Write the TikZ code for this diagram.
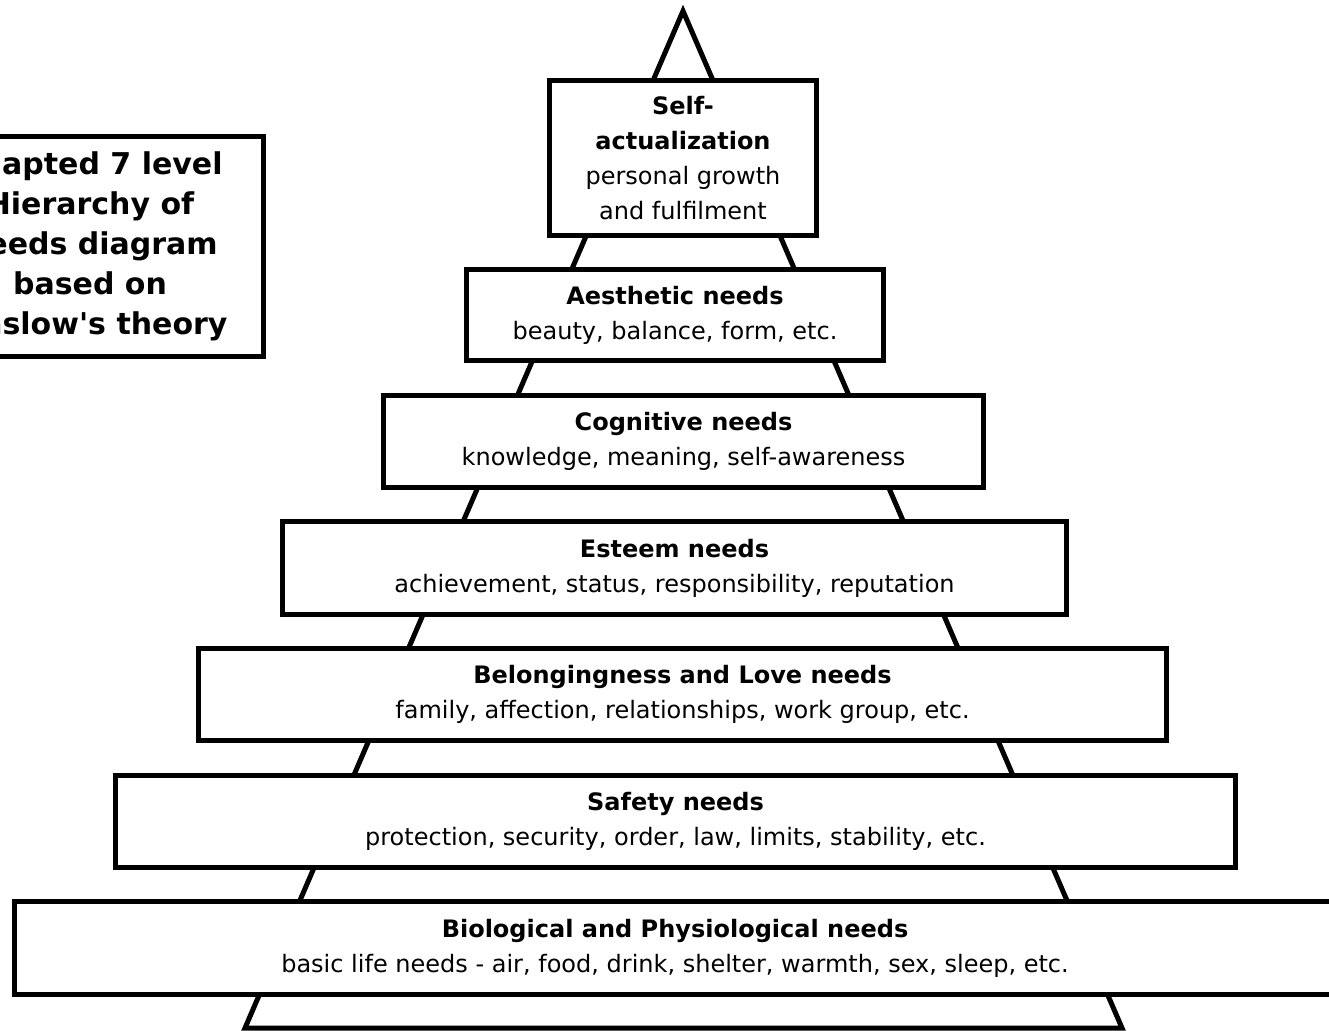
\documentclass[tikz,border=0pt]{standalone}
\usepackage{fontspec}
\setmainfont{DejaVu Sans}
\usetikzlibrary{arrows,shapes}
\tikzstyle{level}=[draw, fill=white, line width=5pt, align=center, inner sep=0pt, font=\fontsize{24}{35}\selectfont]
\tikzstyle{pyramid}=[line width=5pt, line join=miter]

\begin{document}
\begin{tikzpicture}[x=1pt,y=-1pt]
\useasboundingbox (0,0) rectangle (1329,1030);
\clip (0,0) rectangle (1329,1030);
\coordinate (top) at (683,11);
\coordinate (baseL) at (245,1028);
\coordinate (baseR) at (1122,1028);
\draw[pyramid](baseL)--(top)--(baseR)--cycle;
\node[level, minimum width=267pt, minimum height=155pt] (self) at (683,158) {\textbf{Self-}\\\textbf{actualization}\\personal growth\\and fulfilment};
\node[level, minimum width=417pt, minimum height=91pt] (aesth) at (675,315) {\textbf{Aesthetic needs}\\beauty, balance, form, etc.};
\node[level, minimum width=600pt, minimum height=92pt] (cog) at (683.5,441.5) {\textbf{Cognitive needs}\\knowledge, meaning, self-awareness};
\node[level, minimum width=784pt, minimum height=93pt] (esteem) at (674.5,568) {\textbf{Esteem needs}\\achievement, status, responsibility, reputation};
\node[level, minimum width=968pt, minimum height=92pt] (love) at (682.5,694.5) {\textbf{Belongingness and Love needs}\\family, affection, relationships, work group, etc.};
\node[level, minimum width=1120pt, minimum height=92pt] (safety) at (675.5,821.5) {\textbf{Safety needs}\\protection, security, order, law, limits, stability, etc.};
\node[level, minimum width=1321pt, minimum height=93pt] (bio) at (675,948) {\textbf{Biological and Physiological needs}\\basic life needs - air, food, drink, shelter, warmth, sex, sleep, etc.};
\node[draw, line width=5pt, align=center, inner sep=0pt, minimum width=347pt, minimum height=220pt, font=\bfseries\fontsize{30}{40}\selectfont] (title) at (90,246.5) {Adapted 7 level\\Hierarchy of\\Needs diagram\\based on\\Maslow\textquotesingle s theory};
\end{tikzpicture}
\end{document}
